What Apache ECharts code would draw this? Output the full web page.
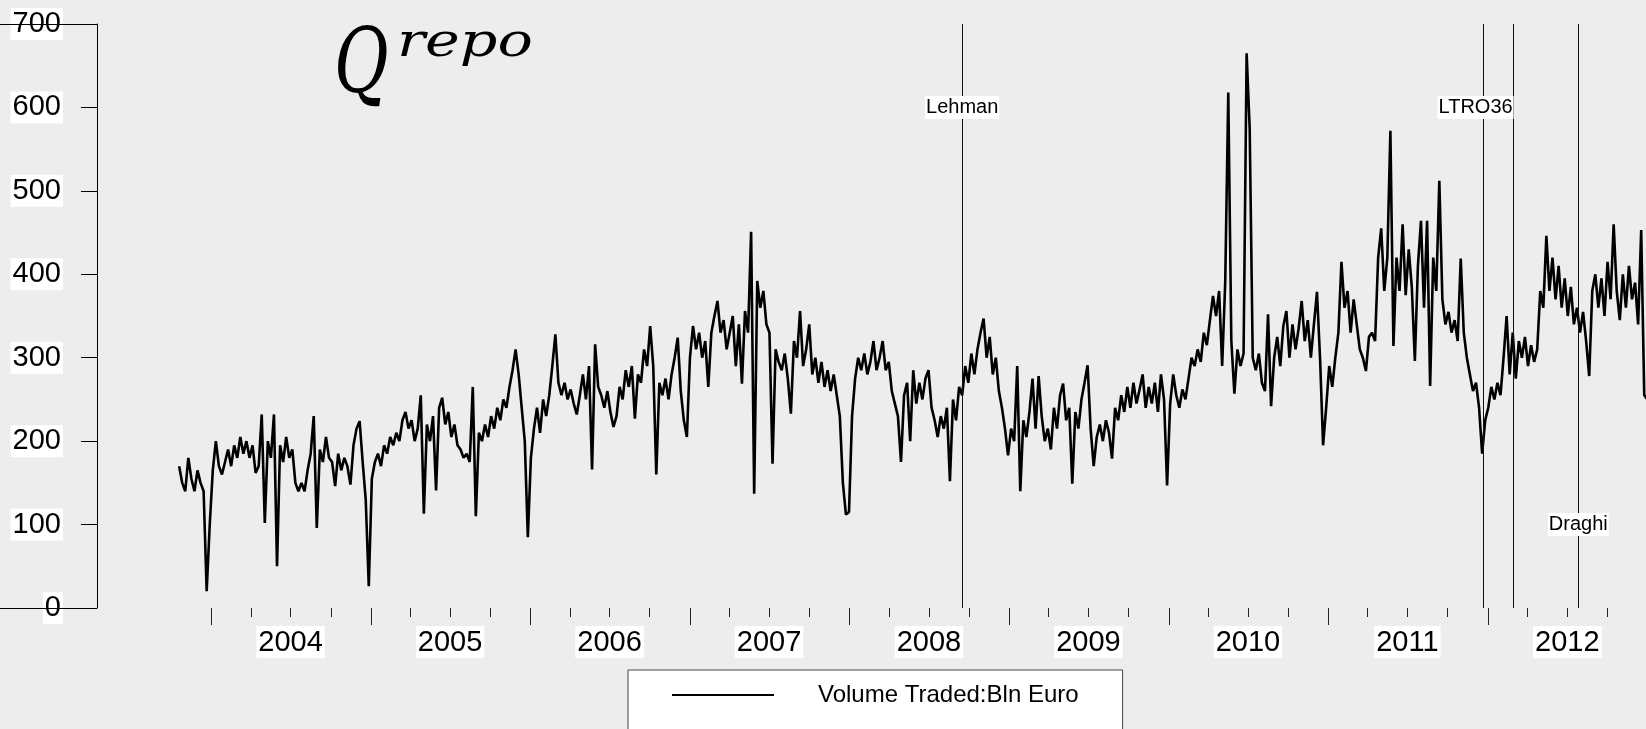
<!DOCTYPE html>
<html>
<head>
<meta charset="utf-8">
<title>Q repo - Volume Traded</title>
<script src="https://cdn.jsdelivr.net/npm/echarts@6/dist/echarts.min.js"></script>
<style>
  html, body { margin: 0; padding: 0; background: #ededed; }
  #chart { width: 1646px; height: 729px; }
</style>
</head>
<body>
<div id="chart"></div>
<script>
// Weekly repo volume traded (bln euro), one array per calendar year.
const vol2003 = [170, 150, 140, 180, 155, 140, 165, 150, 140, 20, 100];
const vol2004 = [165, 200, 170, 160, 175, 190, 170, 195, 180, 205,
                 185, 200, 180, 195, 162, 170, 232, 102, 200, 180,
                 232, 50, 195, 175, 205, 180, 190, 150, 140, 150,
                 140, 165, 185, 230, 96, 190, 175, 205, 180, 175,
                 146, 185, 165, 180, 170, 148, 195, 215, 224, 175,
                 130, 26];
const vol2005 = [155, 175, 185, 170, 195, 185, 205, 195, 210, 200,
                 225, 235, 215, 225, 200, 215, 255, 113, 220, 200,
                 230, 141, 240, 252, 220, 235, 205, 220, 195, 190,
                 180, 185, 175, 265, 110, 210, 200, 220, 205, 230,
                 215, 240, 225, 250, 240, 265, 285, 310, 280, 240,
                 200, 85];
const vol2006 = [180, 215, 240, 210, 250, 230, 255, 290, 328, 270,
                 255, 270, 250, 262, 245, 232, 255, 280, 250, 290,
                 166, 316, 265, 255, 240, 260, 235, 217, 230, 265,
                 250, 285, 265, 290, 227, 280, 270, 310, 290, 338,
                 290, 160, 270, 255, 275, 250, 280, 300, 324, 260,
                 225, 205];
const vol2007 = [300, 338, 310, 330, 300, 320, 265, 330, 350, 368,
                 330, 345, 310, 330, 350, 290, 340, 269, 356, 330,
                 451, 137, 392, 360, 380, 340, 330, 173, 310, 295,
                 285, 305, 275, 233, 320, 300, 356, 290, 310, 340,
                 280, 300, 270, 295, 265, 285, 260, 280, 255, 230,
                 150, 112, 115];
const vol2008 = [230, 275, 300, 285, 305, 280, 295, 320, 285, 300,
                 320, 285, 295, 260, 245, 230, 175, 255, 270, 200,
                 285, 245, 270, 250, 275, 285, 240, 225, 205, 230,
                 215, 240, 152, 250, 225, 265, 255, 290, 270, 305,
                 280, 310, 330, 347, 300, 325, 280, 300, 260, 240,
                 215, 183];
const vol2009 = [215, 200, 290, 140, 225, 205, 235, 275, 215, 278,
                 230, 200, 215, 190, 240, 215, 255, 269, 225, 240,
                 149, 235, 215, 250, 270, 291, 215, 170, 205, 220,
                 200, 225, 210, 179, 240, 225, 255, 235, 265, 240,
                 270, 245, 262, 280, 240, 265, 245, 270, 235, 280,
                 250, 147];
const vol2010 = [245, 280, 255, 240, 262, 250, 275, 300, 290, 310,
                 295, 330, 315, 345, 374, 350, 380, 290, 390, 618,
                 320, 257, 310, 290, 305, 665, 575, 300, 285, 305,
                 270, 260, 352, 242, 300, 325, 290, 338, 356, 300,
                 340, 310, 335, 368, 320, 345, 300, 340, 379, 300,
                 195, 240];
const vol2011 = [290, 265, 300, 330, 415, 360, 380, 330, 370, 340,
                 310, 300, 284, 325, 330, 320, 420, 455, 380, 420,
                 572, 314, 420, 380, 460, 375, 430, 385, 296, 410,
                 464, 360, 464, 266, 420, 380, 512, 370, 340, 355,
                 330, 345, 320, 419, 330, 300, 280, 260, 270, 240,
                 185, 225];
const vol2012 = [240, 265, 250, 270, 255, 300, 350, 280, 330, 275,
                 320, 300, 325, 290, 315, 295, 310, 380, 360, 446,
                 380, 420, 370, 410, 360, 395, 350, 385, 340, 360,
                 330, 355, 320, 278, 380, 400, 360, 395, 350, 415,
                 370, 460, 380, 345, 400, 360, 410, 370, 390, 340,
                 453, 255, 250];

// First observation (a Monday) of each yearly block
const blockStarts = ['2003-10-20', '2004-01-05', '2005-01-03', '2006-01-02', '2007-01-01',
                     '2008-01-07', '2009-01-05', '2010-01-04', '2011-01-03', '2012-01-02'];
const blockValues = [vol2003, vol2004, vol2005, vol2006, vol2007,
                     vol2008, vol2009, vol2010, vol2011, vol2012];

// Year tick labels and axis range
const yearLabels = [2004, 2005, 2006, 2007, 2008, 2009, 2010, 2011, 2012];
const axisStart = '2003-04-15';
const axisEnd = '2012-12-28';

// Policy events: vertical lines and their captions
const eventLineDates = ['2008-09-15', '2011-12-21', '2012-02-29', '2012-07-26'];
const eventCaptions = ['Lehman', 'LTRO36', 'Draghi'];
const eventCaptionDates = ['2008-09-15', '2011-12-04', '2012-07-26'];
const eventCaptionLevels = [600, 600, 100];

const seriesName = 'Volume Traded:Bln Euro';
const FONT = '"Liberation Sans", Arial, sans-serif';
const DAY = 86400000;
const ts = s => Date.parse(s + 'T00:00:00Z');

const volumeData = [];
blockStarts.forEach((s, b) => {
  const t0 = ts(s);
  blockValues[b].forEach((v, i) => volumeData.push([t0 + i * 7 * DAY, v]));
});

const majorTicks = yearLabels.map(y => Date.UTC(y, 0, 1));
const minorTicks = [];
yearLabels.forEach(y => { [3, 6, 9].forEach(m => minorTicks.push(Date.UTC(y, m, 1))); });
const labelPositions = yearLabels.map(y => Date.UTC(y, 6, 1));

const chart = echarts.init(document.getElementById('chart'), null, { renderer: 'canvas' });

// Date axis drawn as a numeric (millisecond) axis with explicit tick positions
const dateAxisBase = {
  type: 'value', min: ts(axisStart), max: ts(axisEnd), offset: 4,
  position: 'bottom', scale: true,
  axisLine: { show: false },
  splitLine: { show: false }
};

chart.setOption({
  backgroundColor: '#ededed',
  animation: false,
  textStyle: { fontFamily: FONT },
  graphic: [
    { type: 'text', x: 334, y: 24, scaleX: 0.74, z: 10,
      style: { text: 'Q', font: 'italic 90px "DejaVu Serif"', fill: '#000' } },
    { type: 'text', x: 397, y: 20, scaleX: 1.25, z: 10,
      style: { text: 'repo', font: 'italic 47px "DejaVu Serif"', fill: '#000' } }
  ],
  grid: { left: 97, right: 0, top: 24, bottom: 121, containLabel: false },
  legend: {
    left: 628, top: 670,
    data: [{ name: seriesName, icon: 'rect' }],
    itemWidth: 102, itemHeight: 2,
    backgroundColor: '#fff', borderColor: '#444', borderWidth: 1,
    padding: [13, 44, 50, 44],
    selectedMode: false,
    textStyle: { fontSize: 24, color: '#000', fontFamily: FONT, padding: [0, 0, 0, 39] }
  },
  xAxis: [
    Object.assign({}, dateAxisBase, {
      axisTick: { show: true, length: 17, customValues: majorTicks,
                  lineStyle: { color: '#222', width: 1 } },
      axisLabel: {
        show: true, customValues: labelPositions, margin: 14,
        formatter: v => String(new Date(v).getUTCFullYear()),
        fontSize: 29, color: '#000', fontFamily: FONT,
        backgroundColor: '#fff', padding: [2, 2, 1, 2]
      }
    }),
    Object.assign({}, dateAxisBase, {
      axisTick: { show: true, length: 9, customValues: minorTicks,
                  lineStyle: { color: '#222', width: 1 } },
      axisLabel: { show: false }
    })
  ],
  yAxis: [
    {
      type: 'value', min: 0, max: 700, interval: 100,
      axisLine: { show: true, lineStyle: { color: '#000', width: 1 } },
      axisTick: { show: true, length: 16, lineStyle: { color: '#000' } },
      splitLine: { show: false },
      axisLabel: {
        fontSize: 29, color: '#000', margin: 34, fontFamily: FONT,
        backgroundColor: '#fff', padding: [2, 2, 1, 2]
      }
    },
    {
      type: 'value', min: 0, max: 700, position: 'left', z: 2,
      axisLine: { show: false },
      axisLabel: { show: false },
      splitLine: { show: false },
      axisTick: { show: true, length: 97, customValues: [0, 700],
                  lineStyle: { color: '#000', width: 1 } }
    }
  ],
  series: [
    {
      name: seriesName, type: 'line', data: volumeData,
      showSymbol: false, symbol: 'none',
      lineStyle: { color: '#000', width: 2.6 },
      itemStyle: { color: '#000' },
      emphasis: { disabled: true },
      markLine: {
        silent: true, symbol: ['none', 'none'],
        label: { show: false },
        lineStyle: { color: '#111', width: 1, type: 'solid' },
        emphasis: { disabled: true },
        data: eventLineDates.map(d => ({ xAxis: ts(d) }))
      }
    },
    {
      name: 'events', type: 'scatter', z: 5, silent: true,
      symbolSize: 1, itemStyle: { color: 'rgba(0,0,0,0)' },
      emphasis: { disabled: true },
      data: eventCaptions.map((c, i) => [ts(eventCaptionDates[i]), eventCaptionLevels[i], c]),
      label: {
        show: true, position: 'inside', formatter: p => p.data[2],
        fontSize: 20, color: '#000', opacity: 1, fontFamily: FONT,
        backgroundColor: '#fff', padding: [2, 1, 1, 1]
      },
      labelLayout: { hideOverlap: false }
    }
  ]
});
</script>
</body>
</html>
